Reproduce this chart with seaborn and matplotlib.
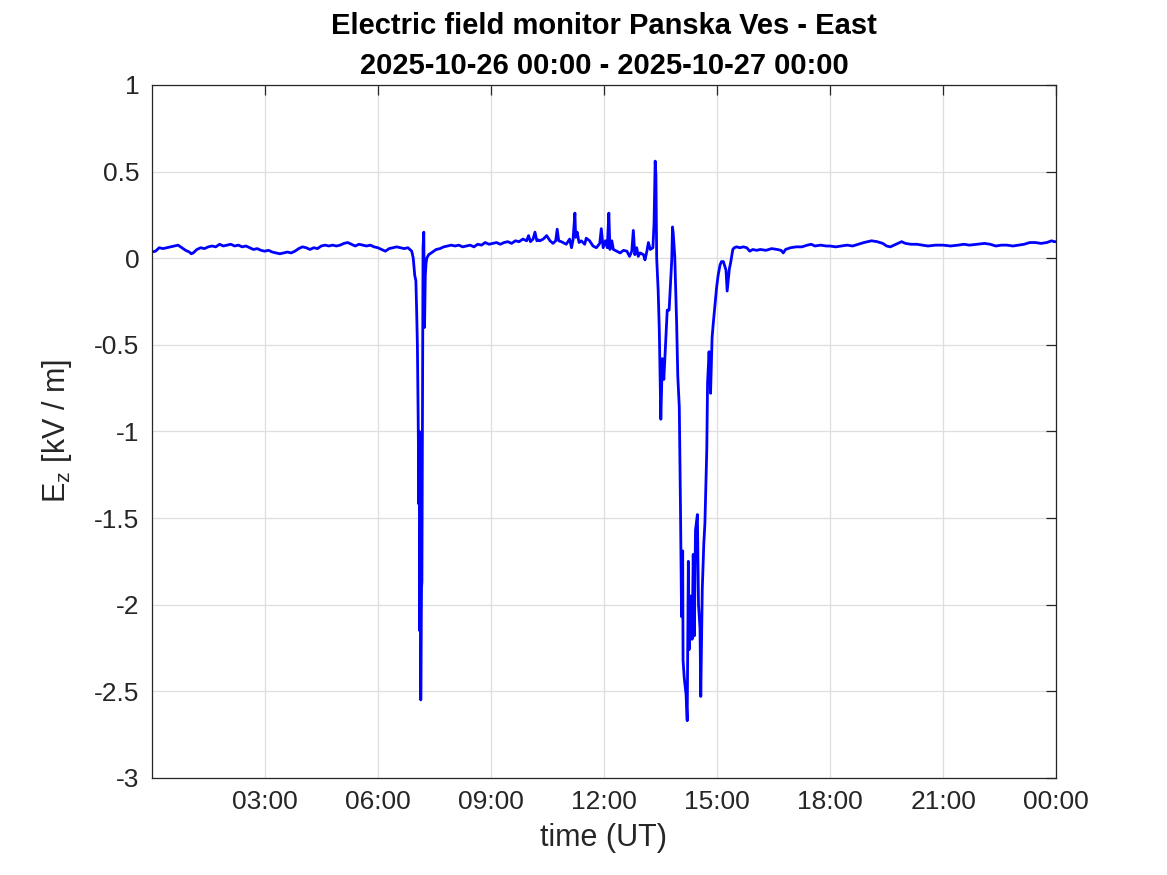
import pandas as pd
import matplotlib
matplotlib.use("Agg")
import matplotlib.pyplot as plt
import seaborn as sns

# hours since 2025-10-26 00:00 UT and vertical field E_z [kV/m]
hours = [
    0.00, 0.10, 0.20, 0.30, 0.40, 0.50, 0.60, 0.70, 0.80, 0.90,
    1.00, 1.05, 1.10, 1.20, 1.30, 1.40, 1.50, 1.60, 1.70, 1.80,
    1.90, 2.00, 2.10, 2.20, 2.30, 2.40, 2.50, 2.60, 2.70, 2.80,
    2.90, 3.00, 3.10, 3.20, 3.30, 3.40, 3.50, 3.60, 3.70, 3.80,
    3.90, 4.00, 4.10, 4.20, 4.30, 4.40, 4.50, 4.60, 4.70, 4.80,
    4.90, 5.00, 5.10, 5.20, 5.30, 5.40, 5.50, 5.60, 5.70, 5.80,
    5.90, 6.00, 6.10, 6.20, 6.30, 6.40, 6.50, 6.60, 6.70, 6.80,
    6.85, 6.90, 6.94, 6.98, 7.01, 7.03, 7.05, 7.07, 7.09, 7.10,
    7.11, 7.13, 7.14, 7.16, 7.17, 7.19, 7.20, 7.22, 7.24, 7.26,
    7.28, 7.30, 7.35, 7.45, 7.55, 7.65, 7.75, 7.85, 7.95, 8.05,
    8.15, 8.25, 8.35, 8.45, 8.55, 8.65, 8.75, 8.85, 8.95, 9.05,
    9.15, 9.25, 9.35, 9.45, 9.55, 9.65, 9.75, 9.85, 9.95, 10.00,
    10.05, 10.12, 10.17, 10.22, 10.27, 10.30, 10.39, 10.48, 10.57, 10.65,
    10.72, 10.76, 10.80, 10.87, 11.00, 11.09, 11.14, 11.18, 11.23, 11.25,
    11.29, 11.34, 11.40, 11.49, 11.53, 11.62, 11.71, 11.80, 11.89, 11.93,
    11.98, 12.04, 12.09, 12.13, 12.16, 12.21, 12.25, 12.34, 12.43, 12.52,
    12.61, 12.68, 12.74, 12.78, 12.82, 12.87, 12.91, 12.96, 13.05, 13.09,
    13.14, 13.18, 13.23, 13.30, 13.33, 13.36, 13.38, 13.40, 13.42, 13.44,
    13.47, 13.51, 13.55, 13.59, 13.65, 13.68, 13.73, 13.80, 13.82, 13.84,
    13.88, 13.93, 13.96, 14.00, 14.02, 14.03, 14.06, 14.09, 14.10, 14.13,
    14.18, 14.21, 14.24, 14.26, 14.30, 14.34, 14.37, 14.40, 14.43, 14.48,
    14.51, 14.55, 14.57, 14.61, 14.65, 14.68, 14.73, 14.75, 14.79, 14.83,
    14.87, 14.90, 14.95, 14.99, 15.03, 15.08, 15.12, 15.17, 15.24, 15.27,
    15.33, 15.36, 15.42, 15.46, 15.52, 15.61, 15.70, 15.79, 15.87, 15.95,
    16.05, 16.15, 16.30, 16.45, 16.60, 16.70, 16.76, 16.82, 16.95, 17.10,
    17.25, 17.40, 17.50, 17.60, 17.75, 17.90, 18.00, 18.15, 18.30, 18.45,
    18.60, 18.75, 18.90, 19.00, 19.10, 19.25, 19.40, 19.50, 19.60, 19.70,
    19.80, 19.90, 20.00, 20.15, 20.30, 20.45, 20.60, 20.80, 21.00, 21.20,
    21.40, 21.55, 21.70, 21.90, 22.10, 22.25, 22.40, 22.55, 22.70, 22.85,
    23.00, 23.15, 23.30, 23.45, 23.60, 23.75, 23.88, 23.95, 24.00,
]
ez = [
    0.035, 0.040, 0.060, 0.055, 0.060, 0.065, 0.070, 0.075, 0.060, 0.045,
    0.035, 0.025, 0.030, 0.050, 0.060, 0.055, 0.065, 0.070, 0.065, 0.080,
    0.070, 0.075, 0.080, 0.070, 0.075, 0.065, 0.070, 0.060, 0.050, 0.055,
    0.045, 0.040, 0.045, 0.035, 0.030, 0.025, 0.030, 0.035, 0.030, 0.040,
    0.055, 0.065, 0.060, 0.050, 0.060, 0.055, 0.070, 0.075, 0.070, 0.075,
    0.070, 0.075, 0.085, 0.090, 0.080, 0.070, 0.080, 0.075, 0.070, 0.075,
    0.065, 0.060, 0.050, 0.040, 0.055, 0.060, 0.065, 0.060, 0.055, 0.060,
    0.050, 0.040, 0.000, -0.100, -0.130, -0.300, -0.500, -0.900, -1.420, -1.000,
    -2.150, -1.500, -2.550, -1.900, -1.870, -0.550, 0.060, 0.150, -0.400, -0.100,
    -0.030, 0.000, 0.020, 0.035, 0.050, 0.055, 0.065, 0.070, 0.075, 0.070,
    0.075, 0.065, 0.070, 0.075, 0.065, 0.080, 0.075, 0.090, 0.080, 0.085,
    0.090, 0.080, 0.090, 0.095, 0.085, 0.100, 0.095, 0.110, 0.100, 0.130,
    0.095, 0.110, 0.150, 0.100, 0.105, 0.100, 0.110, 0.130, 0.100, 0.085,
    0.100, 0.167, 0.100, 0.095, 0.080, 0.110, 0.060, 0.105, 0.260, 0.120,
    0.150, 0.090, 0.100, 0.080, 0.115, 0.100, 0.070, 0.060, 0.085, 0.170,
    0.060, 0.100, 0.060, 0.260, 0.050, 0.100, 0.050, 0.040, 0.030, 0.045,
    0.040, 0.010, 0.040, 0.160, 0.020, 0.060, 0.010, 0.030, 0.020, -0.010,
    0.040, 0.090, 0.050, 0.060, 0.200, 0.560, 0.480, 0.000, -0.090, -0.190,
    -0.420, -0.930, -0.580, -0.700, -0.440, -0.300, -0.300, -0.010, 0.180, 0.140,
    0.010, -0.380, -0.680, -0.860, -1.230, -1.410, -2.070, -1.690, -2.320, -2.420,
    -2.520, -2.670, -1.750, -2.260, -1.950, -2.200, -1.710, -2.180, -1.570, -1.480,
    -2.000, -2.140, -2.530, -1.910, -1.650, -1.530, -1.100, -0.720, -0.540, -0.780,
    -0.460, -0.380, -0.260, -0.170, -0.100, -0.040, -0.020, -0.020, -0.070, -0.190,
    -0.060, -0.030, 0.050, 0.060, 0.065, 0.060, 0.065, 0.060, 0.040, 0.050,
    0.045, 0.050, 0.045, 0.055, 0.050, 0.045, 0.030, 0.050, 0.060, 0.065,
    0.065, 0.075, 0.080, 0.070, 0.075, 0.070, 0.070, 0.065, 0.070, 0.075,
    0.070, 0.080, 0.090, 0.095, 0.100, 0.095, 0.085, 0.070, 0.065, 0.075,
    0.085, 0.095, 0.085, 0.080, 0.080, 0.075, 0.070, 0.075, 0.075, 0.070,
    0.075, 0.080, 0.075, 0.080, 0.085, 0.080, 0.070, 0.075, 0.075, 0.070,
    0.075, 0.080, 0.090, 0.090, 0.085, 0.090, 0.100, 0.095, 0.095,
]

x_ticks = [3, 6, 9, 12, 15, 18, 21, 24]
x_tick_labels = ["03:00", "06:00", "09:00", "12:00", "15:00", "18:00", "21:00", "00:00"]
y_ticks = [-3, -2.5, -2, -1.5, -1, -0.5, 0, 0.5, 1]
y_tick_labels = ["-3", "-2.5", "-2", "-1.5", "-1", "-0.5", "0", "0.5", "1"]

df = pd.DataFrame({"hours": hours, "ez": ez})

sns.set_style("white")
plt.rcParams["font.family"] = ["Liberation Sans", "DejaVu Sans"]

fig = plt.figure(figsize=(11.67, 8.75), dpi=100)
ax = fig.add_axes([0.130, 0.111, 0.775, 0.792])

sns.lineplot(data=df, x="hours", y="ez", color="#0000ff", linewidth=2,
             estimator=None, sort=False, ax=ax)

ax.set_xlim(0, 24)
ax.set_ylim(-3, 1)
ax.set_xticks(x_ticks)
ax.set_xticklabels(x_tick_labels)
ax.set_yticks(y_ticks)
ax.set_yticklabels(y_tick_labels)

# matlab look: box, inward ticks on all sides, light grid
ax.grid(True, color="#dedede", linewidth=0.9)
ax.set_axisbelow(True)
for sp in ax.spines.values():
    sp.set_visible(True)
    sp.set_color("#262626")
    sp.set_linewidth(0.9)
ax.tick_params(direction="in", length=7, width=0.9, color="#262626",
               top=True, right=True, labelsize=19, labelcolor="#262626", pad=9)

ax.set_xlabel("time (UT)", fontsize=22, color="#262626", labelpad=6)
ax.set_ylabel(r"$\mathregular{E_z}$ [kV / m]", fontsize=22, color="#262626", labelpad=14)
ax.set_title("Electric field monitor Panska Ves - East\n2025-10-26 00:00 - 2025-10-27 00:00",
             fontsize=21, fontweight="bold", color="black", pad=8, linespacing=1.55)

fig.savefig("out.png", dpi=100)
